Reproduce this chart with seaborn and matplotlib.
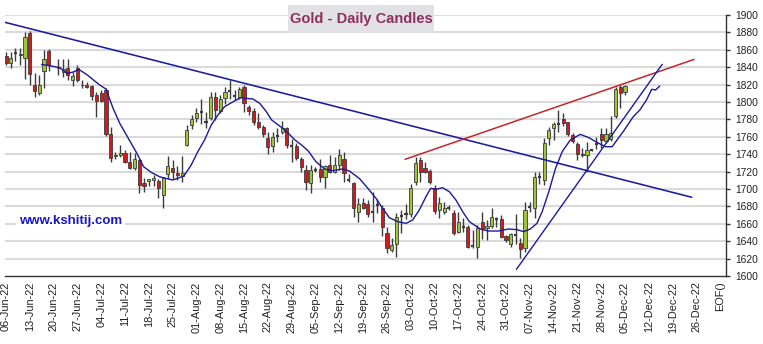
import numpy as np
import pandas as pd
import matplotlib
matplotlib.use("Agg")
import matplotlib.pyplot as plt
import seaborn as sns
from matplotlib.patches import Rectangle

# ---------------- data ----------------
# trading-day index (0 = 06-Jun-22); index 10 is a missing day
day_idx = list(range(0, 131))
opens = [1853, 1844.4, 1856, 1855, 1851, 1879, 1820, 1810, 1836, 1858.5,
         None, 1840, 1835, 1838.6, 1825, 1838.6, 1820, 1820, 1818, 1808,
         1810, 1814, 1763, 1739, 1739, 1741, 1731, 1723.6, 1733, 1707,
         1709, 1710, 1709, 1693, 1717, 1724.5, 1718, 1715, 1751, 1773,
         1782, 1788.5, 1777, 1782, 1806, 1790, 1805, 1813, 1807, 1806,
         1817.6, 1794.6, 1789.6, 1776.6, 1771.6, 1759, 1750, 1761, 1765, 1770.5,
         1750, 1749.8, 1734, 1722, 1706.5, 1722, 1722.6, 1713.4, 1727.6, 1720,
         1728, 1735, 1710.5, 1706.5, 1674, 1684, 1683, 1674, 1681.6, 1678.5,
         1650, 1629.5, 1636.4, 1669, 1671, 1671, 1708.4, 1733, 1724.5, 1721,
         1701.5, 1675.5, 1673.5, 1678, 1672, 1651, 1656, 1656.7, 1635, 1633.7,
         1661.7, 1654.8, 1657.5, 1665.5, 1666, 1646, 1636.8, 1647, 1637.6, 1632,
         1679.7, 1677.8, 1714, 1710, 1758.8, 1769.6, 1775, 1780.4, 1776.6, 1762,
         1751.3, 1740, 1739, 1745, 1752, 1762.8, 1755, 1758, 1784, 1817.6,
         1811.8]
highs = [1858, 1857, 1862, 1862, 1881, 1882, 1833, 1831, 1860, 1861,
         None, 1850, 1850, 1850, 1835, 1842, 1825, 1823, 1819.5, 1812,
         1814, 1815.7, 1771.6, 1743, 1750.5, 1745, 1743, 1741, 1735, 1713,
         1712, 1716, 1712, 1714, 1737.5, 1733, 1727, 1738, 1773.5, 1785,
         1793, 1804, 1789, 1812, 1812, 1808, 1817.6, 1825, 1814, 1817.6,
         1819.5, 1796.5, 1792.7, 1787, 1773.5, 1766, 1766, 1770, 1777.8, 1771.6,
         1758, 1752.4, 1737, 1727.6, 1727.6, 1725.6, 1735, 1727.6, 1739, 1737,
         1746, 1743, 1717, 1707.6, 1689.3, 1689.3, 1687, 1697, 1689, 1681.6,
         1656.6, 1643.6, 1672, 1675.5, 1683, 1705.5, 1737, 1737, 1731.4, 1722.6,
         1704.6, 1691.2, 1685, 1681.6, 1676, 1674, 1666.8, 1658.6, 1653, 1658.6,
         1674, 1664.4, 1677.8, 1668.3, 1669.8, 1647.2, 1649, 1670.8, 1643.3, 1685.5,
         1685.5, 1720, 1720, 1759, 1771.6, 1777.4, 1790.8, 1786.8, 1777.4, 1764,
         1753.6, 1746.7, 1754.4, 1746.3, 1760, 1770.4, 1770.4, 1784, 1817.6, 1819.5,
         1820]
lows = [1842, 1839, 1847, 1842, 1827, 1820, 1806, 1808, 1816, 1836,
        None, 1831, 1829, 1825, 1818, 1822.5, 1816, 1815.6, 1802, 1783,
        1800, 1761, 1731, 1735, 1737, 1730, 1723, 1722, 1695, 1697,
        1704, 1703, 1690, 1678, 1712, 1712, 1710.3, 1708, 1750, 1769,
        1777, 1775, 1770, 1779, 1779, 1787, 1798, 1804, 1802, 1804,
        1788, 1785, 1773.5, 1769, 1760, 1740, 1743, 1754, 1762.8, 1746.7,
        1731, 1733, 1720, 1699, 1695, 1719.6, 1708, 1701.5, 1718, 1718,
        1722, 1707.6, 1708.4, 1668, 1662.5, 1677, 1668, 1662.5, 1672, 1646,
        1626, 1628, 1622, 1649, 1666, 1668, 1704.6, 1708.4, 1718, 1705.5,
        1671, 1667, 1670.8, 1676, 1647, 1649, 1651, 1631.8, 1632, 1620.3,
        1643, 1641.4, 1655, 1656, 1643.6, 1639.3, 1633, 1637, 1620.3, 1628,
        1673, 1667, 1705.5, 1704.6, 1750.5, 1756.3, 1766, 1772.8, 1761.3, 1752.4,
        1733, 1736.7, 1720, 1744, 1745.7, 1746.7, 1752.4, 1755, 1782, 1793,
        1808.5]
closes = [1844.5, 1851, 1856.5, 1854, 1875, 1832, 1813, 1819, 1849, 1842.5,
          None, 1839, 1837.5, 1831, 1830, 1825, 1819, 1817, 1807, 1801.5,
          1801.5, 1763, 1736, 1737.5, 1741, 1731, 1724.5, 1734, 1705, 1703,
          1711, 1712.6, 1700.8, 1712.3, 1726, 1719, 1716.5, 1718, 1768, 1781,
          1787, 1789, 1776.6, 1806, 1791, 1804, 1811, 1813.3, 1807.6, 1814.5,
          1798.4, 1790, 1776.6, 1771.6, 1762.8, 1748.6, 1760, 1761.3, 1770, 1750.5,
          1749.6, 1736, 1725.6, 1708.4, 1722, 1722.2, 1713.4, 1726, 1720, 1727.6,
          1739, 1718, 1710.3, 1678, 1682.6, 1677.8, 1670.8, 1673.7, 1681.4, 1656,
          1632.6, 1635.6, 1668, 1669.4, 1671.4, 1700.8, 1729.5, 1720, 1720, 1708.4,
          1675, 1684, 1678, 1677.8, 1649, 1662.5, 1655.6, 1633.7, 1634.9, 1655.6,
          1654, 1657, 1667.5, 1665.6, 1645, 1641, 1648, 1647.2, 1630.7, 1675.3,
          1680, 1714.2, 1714.2, 1752.4, 1767.7, 1774.7, 1775.1, 1776.2, 1762.8, 1755,
          1740.2, 1739, 1744.8, 1745.3, 1752.2, 1756, 1763, 1764, 1814.5, 1810,
          1818.7]

# moving-average line as drawn (index, price)
ma_idx = [7.5, 9.2, 11.3, 12.8, 14.1, 15.3, 17.1, 18.4, 19.7, 21.0, 22.5, 23.9,
          25.7, 27.5, 28.9, 30.6, 32.3, 35.0, 36.4, 37.4, 38.9, 40.3, 41.7, 43.1,
          44.5, 45.9, 47.7, 49.3, 50.5, 51.9, 53.3, 54.7, 55.8, 57.2, 58.3, 59.3,
          60.7, 62.1, 63.5, 65.1, 66.9, 68.6, 70.7, 72.1, 74.2, 76.0, 77.7, 79.1,
          80.5, 82.3, 84.0, 85.4, 86.8, 88.2, 89.2, 90.3, 91.7, 93.1, 94.5, 95.9,
          97.3, 99.6, 101.3, 103.4, 105.5, 107.3, 108.7, 110.1, 111.5, 112.6, 114.0,
          115.4, 116.8, 118.5, 120.6, 122.4, 124.1, 125.9, 127.3, 128.3, 129.7,
          131.1, 131.7, 133.1, 134.5, 135.6, 136.4, 137.3]
ma_val = [1843.2, 1841.7, 1839.4, 1832.9, 1834.4, 1837.5, 1831, 1825.2, 1819.5,
          1814.9, 1792.7, 1775.5, 1758.2, 1741, 1725.6, 1718.8, 1714, 1710.3, 1713,
          1715.3, 1727.6, 1743, 1756.3, 1773.5, 1785, 1794.6, 1800.3, 1805, 1804.2,
          1803.4, 1798.4, 1788.8, 1779.3, 1773.5, 1769, 1764, 1756.3, 1750.5, 1743.6,
          1731.4, 1723, 1721, 1723, 1720.7, 1712.2, 1700.8, 1689.3, 1677.8, 1667,
          1662.5, 1660.5, 1664.4, 1675.9, 1691.2, 1700.8, 1699.6, 1701.5, 1696.9,
          1687.3, 1674, 1662.5, 1654, 1651.7, 1651.7, 1654, 1653.3, 1651, 1654,
          1660.5, 1674, 1697, 1723.7, 1742.9, 1756.3, 1762.8, 1759, 1753.6, 1748.6,
          1748.6, 1756.3, 1766.6, 1778.1, 1783, 1790.8, 1802.3, 1814.6, 1813.8,
          1818.4]

# trend lines (index, price) end points
down_x, down_y = [-0.2, 144.0], [1891.6, 1690.5]
red_x, red_y = [83.8, 144.5], [1734.1, 1849.0]
up_x, up_y = [107.2, 137.8], [1607.7, 1843.3]

tick_pos = list(range(0, 151, 5))
tick_labels = ["06-Jun-22", "13-Jun-22", "20-Jun-22", "27-Jun-22", "04-Jul-22",
               "11-Jul-22", "18-Jul-22", "25-Jul-22", "01-Aug-22", "08-Aug-22",
               "15-Aug-22", "22-Aug-22", "29-Aug-22", "05-Sep-22", "12-Sep-22",
               "19-Sep-22", "26-Sep-22", "03-Oct-22", "10-Oct-22", "17-Oct-22",
               "24-Oct-22", "31-Oct-22", "07-Nov-22", "14-Nov-22", "21-Nov-22",
               "28-Nov-22", "05-Dec-22", "12-Dec-22", "19-Dec-22", "26-Dec-22",
               "EOF()"]
y_ticks = list(range(1600, 1901, 20))

# ---------------- drawing ----------------
sns.set_style("white")
plt.rcParams["font.family"] = ["Liberation Sans", "DejaVu Sans"]

W, H = 763, 344
fig = plt.figure(figsize=(W / 100, H / 100), dpi=100)
ax = fig.add_axes([5 / W, (H - 276) / H, 721 / W, 261 / H])
ax.set_xlim(-0.2, 151.2)
ax.set_ylim(1600, 1900)

for yv in y_ticks[1:]:
    ax.axhline(yv, color="#dadada", lw=1.5, zorder=0)

df = pd.DataFrame({"idx": day_idx, "open": opens, "high": highs,
                   "low": lows, "close": closes}).dropna()

green = "#9fc437"
red = "#d3191c"
edge = "#3c3c3c"
bw = 0.66
for _, r in df.iterrows():
    ax.vlines(r.idx, r.low, r.high, color=edge, lw=1.0, zorder=2)
    diff = r.close - r.open
    if abs(diff) < 0.6:
        ax.hlines((r.open + r.close) / 2, r.idx - bw / 2, r.idx + bw / 2,
                  color=edge, lw=1.6, zorder=3)
    else:
        fc = green if diff > 0 else red
        ax.bar(r.idx, abs(diff), bottom=min(r.open, r.close), width=bw,
               color=fc, edgecolor=edge, lw=0.6, zorder=3)

sns.lineplot(x=ma_idx, y=ma_val, ax=ax, color="#1a1a96", lw=1.0,
             sort=False, estimator=None, zorder=4)
sns.lineplot(x=down_x, y=down_y, ax=ax, color="#1b1b9e", lw=1.15,
             sort=False, estimator=None, zorder=4)
sns.lineplot(x=red_x, y=red_y, ax=ax, color="#c3262c", lw=1.1,
             sort=False, estimator=None, zorder=4)
sns.lineplot(x=up_x, y=up_y, ax=ax, color="#1b1b9e", lw=1.0,
             sort=False, estimator=None, zorder=4)

for s in ["top", "left"]:
    ax.spines[s].set_visible(False)
for s in ["right", "bottom"]:
    ax.spines[s].set_color("#333333")
    ax.spines[s].set_linewidth(1.0)

ax.yaxis.tick_right()
ax.set_yticks(y_ticks)
ax.set_yticklabels([str(v) for v in y_ticks], fontsize=7.4, color="#222222")
ax.tick_params(axis="y", direction="out", length=3, width=1, color="#333333", pad=4)

ax.set_xticks(tick_pos)
ax.set_xticklabels(tick_labels, rotation=90, fontsize=7.9, color="#222222")
ax.tick_params(axis="x", direction="inout", length=6, width=1, color="#333333", pad=1)
ax.set_xlabel("")
ax.set_ylabel("")

# title box
fig.patches.append(Rectangle((288 / W, 1 - 33 / H), 146 / W, 28 / H,
                             transform=fig.transFigure, facecolor="#e2e1e5",
                             edgecolor="none", zorder=5))
fig.text(361 / W, 1 - 19.5 / H, "Gold - Daily Candles", ha="center", va="center",
         fontsize=10.5, fontweight="bold", color="#8e2f5e", zorder=6)

# watermark
fig.text(19 / W, 1 - 221 / H, "www.kshitij.com", ha="left", va="center",
         fontsize=9.5, fontweight="bold", color="#1717c8", zorder=6,
         bbox=dict(facecolor="white", edgecolor="none", pad=2))

fig.savefig("out.png", dpi=100)
